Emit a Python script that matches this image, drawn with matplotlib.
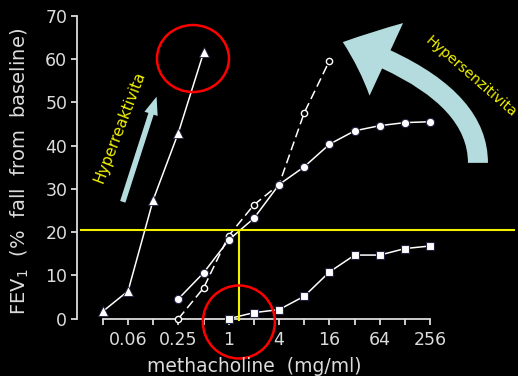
import numpy as np
import matplotlib.pyplot as plt
from matplotlib.patches import Ellipse, FancyArrowPatch
from matplotlib.transforms import ScaledTranslation

# methacholine dose (mg/ml) and fall in FEV1 (%)
dose_tri = [1/32, 1/16, 1/8, 1/4, 1/2]
fev_tri = [1.7, 6.4, 27.5, 43.0, 61.5]

dose_dot = [1/4, 1/2, 1, 2, 4, 8, 16, 32, 64, 128, 256]
fev_dot = [4.6, 10.6, 18.2, 23.2, 31.0, 35.1, 40.3, 43.4, 44.6, 45.3, 45.5]

dose_ring = [1/4, 1/2, 1, 2, 4, 8, 16]
fev_ring = [0.0, 7.1, 19.2, 26.3, 31.0, 47.6, 59.6]

dose_sq = [1, 2, 4, 8, 16, 32, 64, 128, 256]
fev_sq = [0.0, 1.4, 2.1, 5.2, 10.8, 14.7, 14.7, 16.2, 16.8]

tick_doses = [2.0**k for k in range(-5, 9)]
tick_labels = ['', '0.06', '', '0.25', '', '1', '', '4', '', '16', '', '64', '', '256']
y_ticks = [0, 10, 20, 30, 40, 50, 60, 70]

pc20 = 20.5      # 20 % fall threshold
pd20 = 1.32      # dose where the threshold is crossed

fg = '#dcdcdc'
cyan = '#b4dcde'
yellow = '#f2f200'

fig = plt.figure(figsize=(5.18, 3.76), dpi=100, facecolor='black')
ax = fig.add_axes([0.1486, 0.1524, 0.8456, 0.8059])
ax.set_facecolor('black')
ax.set_xscale('log', base=2)
ax.set_xlim(2**-6.03, 2**11.37)
ax.set_ylim(0, 70)

for s in ['top', 'right']:
    ax.spines[s].set_visible(False)
for s in ['left', 'bottom']:
    ax.spines[s].set_color(fg)
    ax.spines[s].set_linewidth(1.3)
ax.spines['left'].set_bounds(0, 70)
ax.spines['bottom'].set_bounds(tick_doses[0], tick_doses[-1])

ax.set_xticks(tick_doses)
ax.set_xticklabels(tick_labels)
ax.xaxis.set_minor_locator(plt.NullLocator())
ax.set_yticks(y_ticks)
ax.tick_params(axis='x', direction='out', length=4, width=1.3, colors=fg,
               labelsize=12.5, pad=5)
ax.tick_params(axis='y', direction='out', length=4, width=1.3, colors=fg,
               labelsize=12.5, pad=3)

# data series
lw = 1.1
ax.plot(dose_tri, fev_tri, color='white', lw=lw, marker='^', ms=7,
        mec='#202040', mew=0.6, clip_on=False, zorder=3)
ax.plot(dose_ring, fev_ring, color='white', lw=lw, ls=(0, (6, 3)), marker='o',
        ms=4.5, mfc='black', mec='white', mew=1.0, clip_on=False, zorder=3)
ax.plot(dose_dot, fev_dot, color='white', lw=lw, marker='o', ms=6,
        mec='#202040', mew=0.8, clip_on=False, zorder=3)
ax.plot(dose_sq, fev_sq, color='white', lw=lw, marker='s', ms=6,
        mec='#202040', mew=0.8, clip_on=False, zorder=3)

# threshold lines
ax.axhline(pc20, xmin=0.01, xmax=1, color=yellow, lw=1.5, zorder=4)
ax.plot([pd20, pd20], [-0.3, pc20], color=yellow, lw=1.5, clip_on=False, zorder=4)

# arrows
ax.add_patch(FancyArrowPatch((0.054, 27.0), (0.137, 51.3),
                             arrowstyle='simple,head_length=13,head_width=10,tail_width=4',
                             mutation_scale=1, color=cyan, lw=0,
                             shrinkA=0, shrinkB=0, clip_on=False, zorder=2))
ax.add_patch(FancyArrowPatch((955, 36.0), (23.1, 63.9),
                             connectionstyle='angle3,angleA=90,angleB=161',
                             arrowstyle='simple,head_length=33.7,head_width=57.6,tail_width=14.4',
                             mutation_scale=1, color=cyan, lw=0,
                             shrinkA=0, shrinkB=0, clip_on=False, zorder=2))

ax.text(0.05, 44.3, 'Hyperreaktivita', color=yellow, fontsize=11,
        rotation=69, ha='center', va='center', rotation_mode='anchor')
ax.text(780, 55.8, 'Hypersenzitivita', color=yellow, fontsize=10.3,
        rotation=-41, ha='center', va='center', rotation_mode='anchor',
        clip_on=False)

# red rings
for cx, cy, w, h in [(0.373, 60.1, 0.72, 0.67), (pd20, -0.76, 0.72, 0.73)]:
    tr = fig.dpi_scale_trans + ScaledTranslation(cx, cy, ax.transData)
    ax.add_patch(Ellipse((0, 0), w, h, transform=tr, fill=False,
                         ec='#ff0000', lw=1.8, clip_on=False, zorder=5))

fig.text(20/518, 1 - 171/376, 'FEV$_1$  (%  fall  from  baseline)', color=fg,
         fontsize=14, rotation=90, ha='center', va='center')
fig.text(254/518, 1 - 366/376, 'methacholine  (mg/ml)', color=fg,
         fontsize=13.5, ha='center', va='center')

fig.savefig('out.png', dpi=100, facecolor='black')
